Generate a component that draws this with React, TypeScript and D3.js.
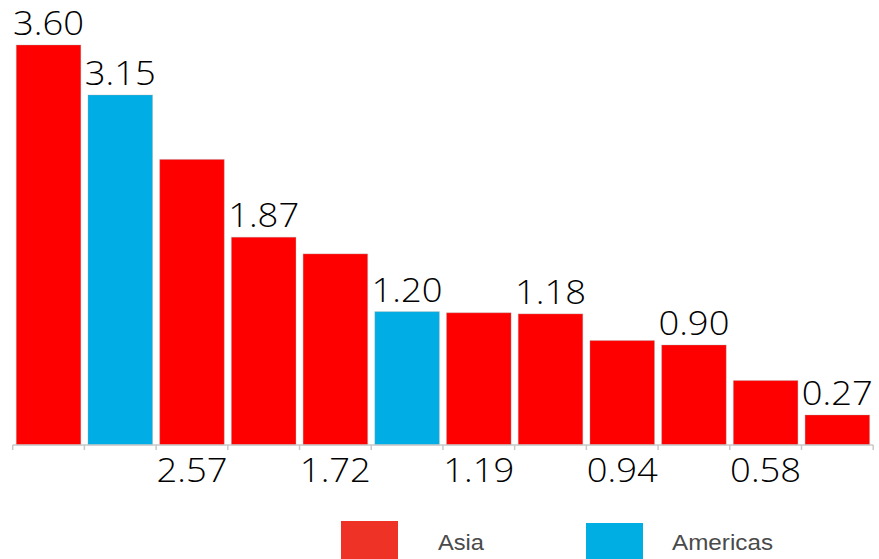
import React from 'react';
import * as d3 from 'd3';

const regions = ['Asia', 'Americas', 'Asia', 'Asia', 'Asia', 'Americas', 'Asia', 'Asia', 'Asia', 'Asia', 'Asia', 'Asia'];
const values = [3.6, 3.15, 2.57, 1.87, 1.72, 1.2, 1.19, 1.18, 0.94, 0.9, 0.58, 0.27];
const labelPlacement = ['top', 'top', 'bottom', 'top', 'bottom', 'top', 'bottom', 'top', 'bottom', 'top', 'bottom', 'top'];
const legendItems = ['Asia', 'Americas'];

const W = 879;
const H = 559;
const barColors: Record<string, string> = { Asia: '#FF0000', Americas: '#00ADE4' };
const legendColors: Record<string, string> = { Asia: '#EE3226', Americas: '#00AEE3' };

export default function App() {
  const idx = values.map((_, i) => i);
  const x = d3.scaleBand<number>().domain(idx).range([12.7, 873.2]).paddingInner(0.1).paddingOuter(0.05);
  const y = d3.scaleLinear().domain([0, 3.6]).range([445, 45]);
  const step = x.step();
  const x0 = x.range()[0];
  const ticks = d3.range(values.length + 1).map((i) => x0 + i * step);

  const legendX = d3.scalePoint<string>().domain(legendItems).range([341, 586]);
  const legendTextX = d3.scalePoint<string>().domain(legendItems).range([438, 672]);

  return (
    <svg width={W} height={H} style={{ position: 'absolute', left: 0, top: 0, background: '#fff' }}>
      <g>
        {values.map((v, i) => (
          <rect
            key={i}
            x={x(i)}
            y={y(v)}
            width={x.bandwidth()}
            height={y(0) - y(v)}
            fill={barColors[regions[i]]}
            stroke="rgba(170,170,170,0.35)"
            strokeWidth={1}
          />
        ))}
      </g>
      <line x1={x0} x2={x0 + values.length * step} y1={y(0)} y2={y(0)} stroke="#c8c8c8" strokeWidth={1.5} />
      {ticks.map((t, i) => (
        <line key={i} x1={t} x2={t} y1={y(0)} y2={y(0) + 5} stroke="#c8c8c8" strokeWidth={1.5} />
      ))}
      <g fontFamily="'Open Sans', sans-serif" fontSize={33} fontWeight={300} fill="#000">
        {values.map((v, i) => {
          const cx = (x(i) as number) + x.bandwidth() / 2;
          const ty = labelPlacement[i] === 'top' ? y(v) - 10 : 482;
          return (
            <text key={i} x={cx} y={ty} textAnchor="middle" textLength={71} lengthAdjust="spacingAndGlyphs">
              {d3.format('.2f')(v)}
            </text>
          );
        })}
      </g>
      <g>
        {legendItems.map((name, i) => {
          const lx = legendX(name) as number;
          return (
            <g key={name}>
              <rect x={lx} y={521 + i * 2} width={57} height={40} fill={legendColors[name]} />
              <text
                x={legendTextX(name) as number}
                y={550}
                fontFamily="'Liberation Sans', Arial, sans-serif"
                fontSize={22}
                fill="#4a4a4a"
                textLength={name === 'Asia' ? 46 : 101}
                lengthAdjust="spacingAndGlyphs"
              >
                {name}
              </text>
            </g>
          );
        })}
      </g>
    </svg>
  );
}
